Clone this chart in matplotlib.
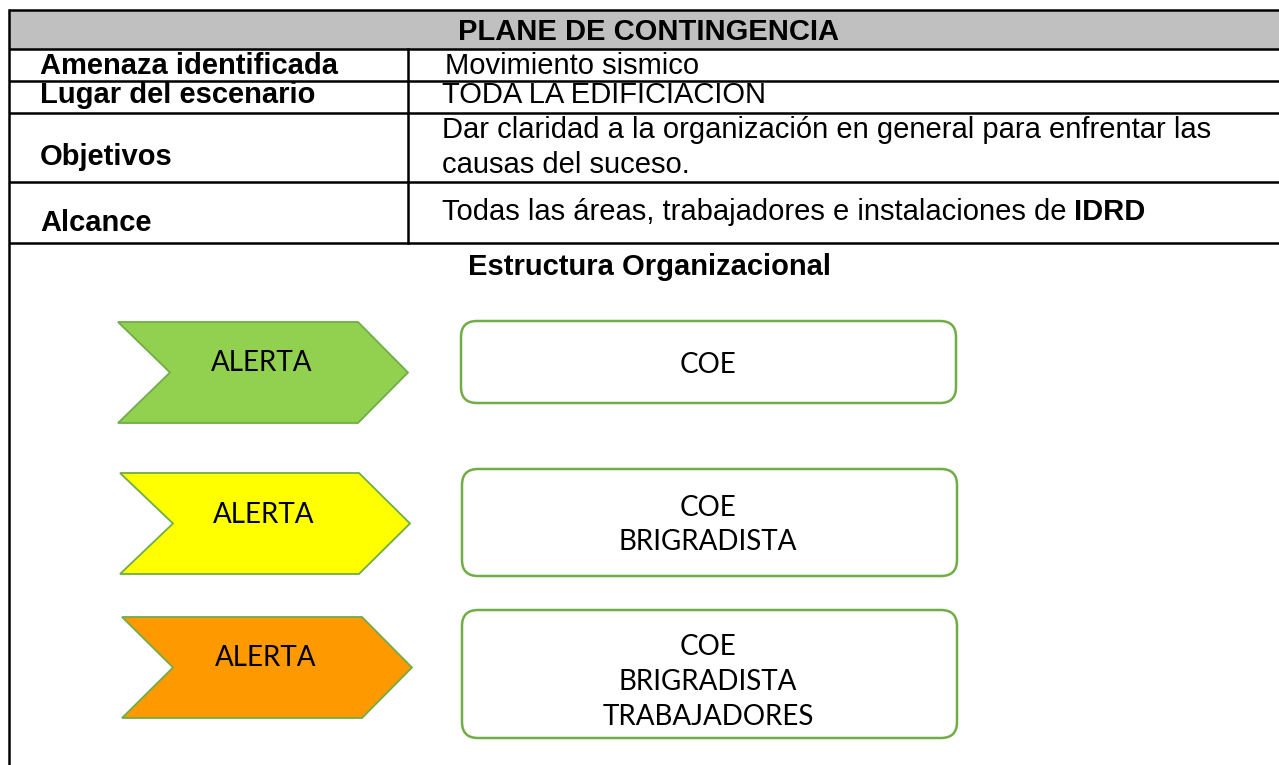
import matplotlib
matplotlib.use("Agg")
import matplotlib.pyplot as plt
from matplotlib.patches import Polygon, FancyBboxPatch, Rectangle

# --- contenido ---
titulo = "PLANE DE CONTINGENCIA"
etiquetas = ["Amenaza identificada", "Lugar del escenario", "Objetivos", "Alcance"]
valores = [
    ["Movimiento sismico"],
    ["TODA LA EDIFICIACION"],
    ["Dar claridad a la organización en general para enfrentar las", "causas del suceso."],
    ["Todas las áreas, trabajadores e instalaciones de"],
]
alcance_negrita = "IDRD"
subtitulo = "Estructura Organizacional"
alertas = ["ALERTA", "ALERTA", "ALERTA"]
colores_alerta = ["#92D050", "#FFFF00", "#FF9900"]
niveles = [
    ["COE"],
    ["COE", "BRIGRADISTA"],
    ["COE", "BRIGRADISTA", "TRABAJADORES"],
]

# --- layout (pixeles) ---
W, H = 1279, 765
filas = [10, 49, 81, 113, 182, 243]
x_izq, x_div = 9, 408
base_etiqueta = [74, 103, 165, 231]
x_etiqueta = 40
base_valor = [[74], [103], [138, 173], [220]]
x_valor = [445, 442, 442, 442]

chev_x = [(118, 170, 358, 408), (120, 173, 359, 410), (122, 173, 362, 412)]
chev_y = [(322, 423), (473, 574), (617, 718)]
chev_txt = [(262, 361), (264, 513), (266, 656)]

caja_x = [(461, 956), (462, 957), (462, 957)]
caja_y = [(321, 403), (469, 576), (610, 738)]
caja_txt_y = [363, 523, 680]
caja_txt_x = 708
interlinea = 35

VERDE_BORDE = "#70AD47"
tabla_font = "Liberation Sans"
forma_font = "Lato"

fig = plt.figure(figsize=(W / 100, H / 100), dpi=100)
ax = fig.add_axes([0, 0, 1, 1])
ax.set_xlim(0, W)
ax.set_ylim(H, 0)
ax.axis("off")

# encabezado gris
ax.add_patch(Rectangle((x_izq, filas[0]), W - x_izq, filas[1] - filas[0],
                       facecolor="#C0C0C0", edgecolor="none"))
lw = 1.8
for y in filas:
    ax.plot([x_izq, W], [y, y], color="black", lw=lw, solid_capstyle="butt")
ax.plot([x_izq, x_izq], [filas[0], H], color="black", lw=lw)
ax.plot([x_div, x_div], [filas[1], filas[-1]], color="black", lw=lw)

ax.text(648, 40, titulo, ha="center", va="baseline", fontsize=21,
        fontweight="bold", family=tabla_font)

for i, lab in enumerate(etiquetas):
    ax.text(x_etiqueta, base_etiqueta[i], lab, ha="left", va="baseline",
            fontsize=21, fontweight="bold", family=tabla_font)
    for j, linea in enumerate(valores[i]):
        t = ax.text(x_valor[i], base_valor[i][j], linea, ha="left", va="baseline",
                    fontsize=21, family=tabla_font)

# IDRD en negrita despues del texto de alcance
fig.canvas.draw()
bb = t.get_window_extent(fig.canvas.get_renderer())
x_fin = ax.transData.inverted().transform((bb.x1, bb.y0))[0]
ax.text(x_fin + 7, base_valor[3][0], alcance_negrita, ha="left", va="baseline",
        fontsize=21, fontweight="bold", family=tabla_font)

ax.text(650, 275, subtitulo, ha="center", va="baseline", fontsize=21,
        fontweight="bold", family=tabla_font)

# flechas de alerta
for k in range(3):
    x0, xn, xc, xt = chev_x[k]
    y0, y1 = chev_y[k]
    ym = (y0 + y1) / 2
    pts = [(x0, y0), (xc, y0), (xt, ym), (xc, y1), (x0, y1), (xn, ym)]
    ax.add_patch(Polygon(pts, closed=True, facecolor=colores_alerta[k],
                         edgecolor=VERDE_BORDE, lw=1.3, joinstyle="miter"))
    ax.text(chev_txt[k][0], chev_txt[k][1] + 10, alertas[k], ha="center",
            va="baseline", fontsize=20, family=forma_font)

# cajas de responsables
for k in range(3):
    xa, xb = caja_x[k]
    ya, yb = caja_y[k]
    ax.add_patch(FancyBboxPatch((xa, ya), xb - xa, yb - ya,
                                boxstyle="round,pad=0,rounding_size=16",
                                facecolor="white", edgecolor=VERDE_BORDE, lw=1.8))
    n = len(niveles[k])
    for j, linea in enumerate(niveles[k]):
        yc = caja_txt_y[k] + (j - (n - 1) / 2) * interlinea
        ax.text(caja_txt_x, yc + 10, linea, ha="center", va="baseline",
                fontsize=20, family=forma_font)

fig.savefig("out.png", dpi=100, facecolor="white")
